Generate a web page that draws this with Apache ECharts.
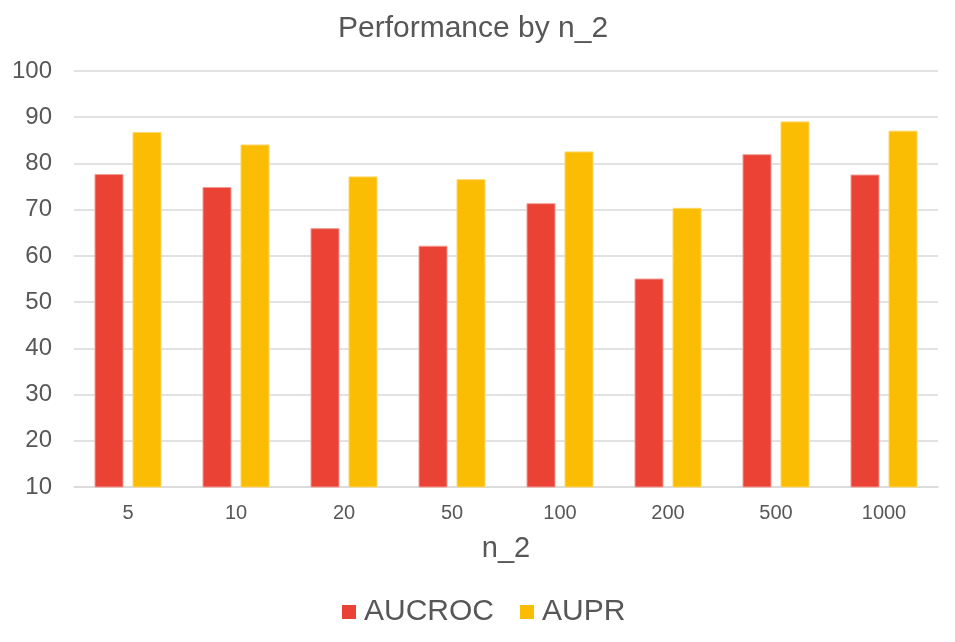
<!DOCTYPE html>
<html>
<head>
<meta charset="utf-8">
<style>html,body{margin:0;padding:0;background:#fff;}#chart{width:955px;height:642px;}</style>
<script src="https://cdn.jsdelivr.net/npm/echarts@6/dist/echarts.min.js"></script>
</head>
<body>
<div id="chart"></div>
<script>
const categories = ['5', '10', '20', '50', '100', '200', '500', '1000'];
const aucroc = [77.7, 74.9, 66.0, 62.2, 71.4, 55.1, 82.0, 77.6];
const aupr = [86.8, 84.1, 77.2, 76.6, 82.6, 70.4, 89.1, 87.1];

const FONT = 'Liberation Sans, Arial, sans-serif';
const TEXT = '#575757';
const chart = echarts.init(document.getElementById('chart'));
chart.setOption({
  animation: false,
  textStyle: { fontFamily: FONT },
  title: {
    text: 'Performance by n_2',
    left: 333,
    top: 9,
    textStyle: { fontFamily: FONT, fontSize: 30, fontWeight: 'normal', color: TEXT }
  },
  legend: {
    data: ['AUCROC', 'AUPR'],
    left: 337,
    top: 592,
    icon: 'rect',
    itemWidth: 14,
    itemHeight: 14,
    itemGap: 26,
    itemStyle: { borderWidth: 0 },
    textStyle: { fontFamily: FONT, fontSize: 30, color: TEXT, padding: [0, 0, 0, 3] }
  },
  grid: { left: 74, right: 17, top: 71, bottom: 155, containLabel: false },
  xAxis: {
    type: 'category',
    data: categories,
    name: 'n_2',
    nameLocation: 'middle',
    nameGap: 47,
    nameTextStyle: { fontFamily: FONT, fontSize: 29, color: TEXT },
    axisLine: { show: true, lineStyle: { color: '#d9d9d9', width: 1.5 } },
    axisTick: { show: false },
    axisLabel: { margin: 16, fontFamily: FONT, fontSize: 20, color: TEXT }
  },
  yAxis: {
    type: 'value',
    min: 10,
    max: 100,
    interval: 10,
    axisLine: { show: false },
    axisTick: { show: false },
    splitLine: { lineStyle: { color: '#d9d9d9', width: 1.5 } },
    axisLabel: { margin: 22, fontFamily: FONT, fontSize: 24, color: TEXT }
  },
  series: [
    {
      name: 'AUCROC',
      type: 'bar',
      data: aucroc,
      barWidth: 29,
      barGap: '31%',
      itemStyle: { color: '#EA4335', borderColor: '#f29a92', borderWidth: 1 }
    },
    {
      name: 'AUPR',
      type: 'bar',
      data: aupr,
      barWidth: 29,
      barGap: '31%',
      itemStyle: { color: '#FBBC04', borderColor: '#fdd96a', borderWidth: 1 }
    }
  ]
});
</script>
</body>
</html>
